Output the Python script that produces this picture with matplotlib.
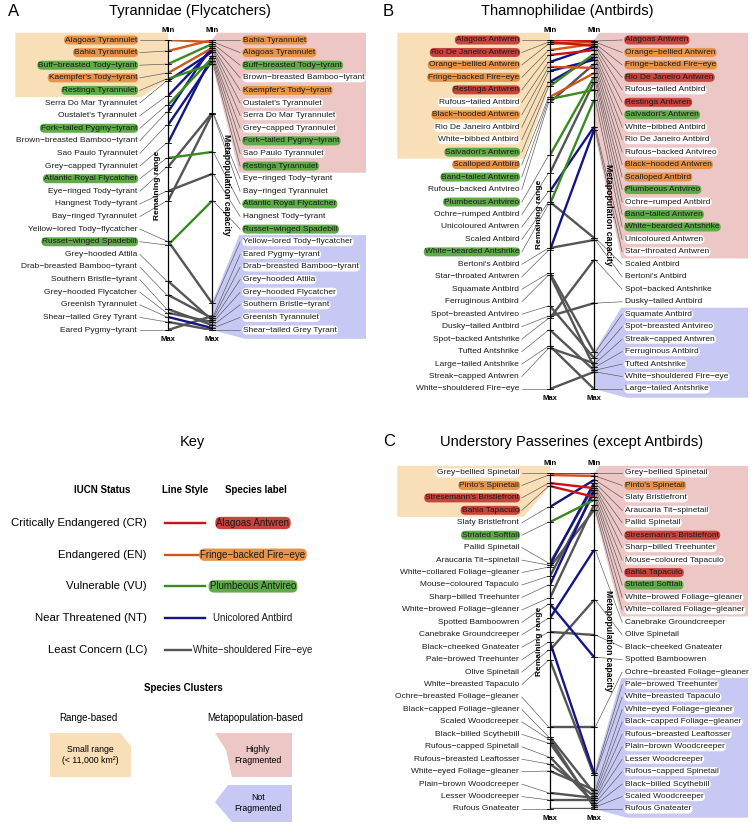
import matplotlib.pyplot as plt
from matplotlib.patches import Polygon

plt.rcParams['font.family'] = ['Liberation Sans', 'DejaVu Sans']

W, H = 752, 825

line_col = {'CR': '#c81414', 'EN': '#d0561c', 'VU': '#3a8a20', 'NT': '#15158a', 'LC': '#555555'}
pill_col = {'CR': '#c9433d', 'EN': '#e7944a', 'VU': '#5fab4a'}
tan, pink, blue = '#f8dfb7', '#edc6c6', '#c8c8f5'

# ---------------- A: Tyrannidae
a_left = ["Alagoas Tyrannulet", "Bahia Tyrannulet", "Buff-breasted Tody-tyrant", "Kaempfer's Tody-tyrant",
          "Restinga Tyrannulet", "Serra Do Mar Tyrannulet", "Oustalet's Tyrannulet", "Fork-tailed Pygmy-tyrant",
          "Brown-breasted Bamboo-tyrant", "Sao Paulo Tyrannulet", "Grey-capped Tyrannulet",
          "Atlantic Royal Flycatcher", "Eye-ringed Tody-tyrant", "Hangnest Tody-tyrant", "Bay-ringed Tyrannulet",
          "Yellow-lored Tody-flycatcher", "Russet-winged Spadebill", "Grey-hooded Attila",
          "Drab-breasted Bamboo-tyrant", "Southern Bristle-tyrant", "Grey-hooded Flycatcher",
          "Greenish Tyrannulet", "Shear-tailed Grey Tyrant", "Eared Pygmy-tyrant"]
a_status = ['EN', 'EN', 'VU', 'EN', 'VU', 'NT', 'NT', 'VU', 'NT', 'NT', 'NT', 'VU', 'LC', 'LC', 'LC', 'LC',
            'VU', 'LC', 'LC', 'LC', 'LC', 'NT', 'LC', 'LC']
a_range = [0.000, 0.038, 0.083, 0.114, 0.134, 0.141, 0.193, 0.224, 0.248, 0.293, 0.355, 0.407, 0.438, 0.521,
           0.555, 0.693, 0.707, 0.831, 0.879, 0.928, 0.941, 0.955, 0.972, 1.000]
a_right = ["Bahia Tyrannulet", "Alagoas Tyrannulet", "Buff-breasted Tody-tyrant", "Brown-breasted Bamboo-tyrant",
           "Kaempfer's Tody-tyrant", "Oustalet's Tyrannulet", "Serra Do Mar Tyrannulet", "Grey-capped Tyrannulet",
           "Fork-tailed Pygmy-tyrant", "Sao Paulo Tyrannulet", "Restinga Tyrannulet", "Eye-ringed Tody-tyrant",
           "Bay-ringed Tyrannulet", "Atlantic Royal Flycatcher", "Hangnest Tody-tyrant", "Russet-winged Spadebill",
           "Yellow-lored Tody-flycatcher", "Eared Pygmy-tyrant", "Drab-breasted Bamboo-tyrant",
           "Grey-hooded Attila", "Grey-hooded Flycatcher", "Southern Bristle-tyrant", "Greenish Tyrannulet",
           "Shear-tailed Grey Tyrant"]
a_cap = [0.000, 0.007, 0.014, 0.021, 0.028, 0.034, 0.041, 0.055, 0.062, 0.072, 0.083, 0.252, 0.255, 0.386,
         0.462, 0.555, 0.907, 0.952, 0.959, 0.966, 0.972, 0.983, 0.993, 1.000]

# ---------------- B: Thamnophilidae
b_left = ["Alagoas Antwren", "Rio De Janeiro Antwren", "Orange-bellied Antwren", "Fringe-backed Fire-eye",
          "Restinga Antwren", "Rufous-tailed Antbird", "Black-hooded Antwren", "Rio De Janeiro Antbird",
          "White-bibbed Antbird", "Salvadori's Antwren", "Scalloped Antbird", "Band-tailed Antwren",
          "Rufous-backed Antvireo", "Plumbeous Antvireo", "Ochre-rumped Antbird", "Unicoloured Antwren",
          "Scaled Antbird", "White-bearded Antshrike", "Bertoni's Antbird", "Star-throated Antwren",
          "Squamate Antbird", "Ferruginous Antbird", "Spot-breasted Antvireo", "Dusky-tailed Antbird",
          "Spot-backed Antshrike", "Tufted Antshrike", "Large-tailed Antshrike", "Streak-capped Antwren",
          "White-shouldered Fire-eye"]
b_status = ['CR', 'CR', 'EN', 'EN', 'CR', 'NT', 'EN', 'NT', 'NT', 'VU', 'EN', 'VU', 'LC', 'VU', 'LC', 'NT',
            'LC', 'VU', 'LC', 'NT', 'LC', 'LC', 'LC', 'LC', 'LC', 'LC', 'LC', 'LC', 'LC']
b_range = [0.000, 0.006, 0.011, 0.029, 0.043, 0.063, 0.077, 0.089, 0.120, 0.132, 0.163, 0.169, 0.178, 0.330,
           0.381, 0.433, 0.464, 0.470, 0.596, 0.602, 0.668, 0.673, 0.762, 0.791, 0.797, 0.831, 0.877, 0.883,
           1.000]
b_right = ["Alagoas Antwren", "Orange-bellied Antwren", "Fringe-backed Fire-eye", "Rio De Janeiro Antwren",
           "Rufous-tailed Antbird", "Restinga Antwren", "Salvadori's Antwren", "White-bibbed Antbird",
           "Rio De Janeiro Antbird", "Rufous-backed Antvireo", "Black-hooded Antwren", "Scalloped Antbird",
           "Plumbeous Antvireo", "Ochre-rumped Antbird", "Band-tailed Antwren", "White-bearded Antshrike",
           "Unicoloured Antwren", "Star-throated Antwren", "Scaled Antbird", "Bertoni's Antbird",
           "Spot-backed Antshrike", "Dusky-tailed Antbird", "Squamate Antbird", "Spot-breasted Antvireo",
           "Streak-capped Antwren", "Ferruginous Antbird", "Tufted Antshrike", "White-shouldered Fire-eye",
           "Large-tailed Antshrike"]
b_cap = [0.003, 0.006, 0.011, 0.017, 0.020, 0.029, 0.040, 0.049, 0.057, 0.069, 0.080, 0.095, 0.106, 0.120,
         0.143, 0.172, 0.249, 0.258, 0.567, 0.573, 0.630, 0.754, 0.894, 0.911, 0.926, 0.937, 0.946, 0.951,
         1.000]

# ---------------- C: Understory passerines
c_left = ["Grey-bellied Spinetail", "Pinto's Spinetail", "Stresemann's Bristlefront", "Bahia Tapaculo",
          "Slaty Bristlefront", "Striated Softtail", "Pallid Spinetail", "Araucaria Tit-spinetail",
          "White-collared Foliage-gleaner", "Mouse-coloured Tapaculo", "Sharp-billed Treehunter",
          "White-browed Foliage-gleaner", "Spotted Bamboowren", "Canebrake Groundcreeper",
          "Black-cheeked Gnateater", "Pale-browed Treehunter", "Olive Spinetail", "White-breasted Tapaculo",
          "Ochre-breasted Foliage-gleaner", "Black-capped Foliage-gleaner", "Scaled Woodcreeper",
          "Black-billed Scythebill", "Rufous-capped Spinetail", "Rufous-breasted Leaftosser",
          "White-eyed Foliage-gleaner", "Plain-brown Woodcreeper", "Lesser Woodcreeper", "Rufous Gnateater"]
c_status = ['LC', 'EN', 'CR', 'CR', 'NT', 'VU', 'LC', 'NT', 'LC', 'LC', 'NT', 'LC', 'NT', 'NT', 'LC', 'NT',
            'LC', 'LC', 'LC', 'LC', 'LC', 'LC', 'LC', 'LC', 'LC', 'LC', 'LC', 'LC']
c_range = [0.000, 0.006, 0.030, 0.039, 0.101, 0.146, 0.268, 0.274, 0.280, 0.307, 0.333, 0.372, 0.390, 0.432,
           0.473, 0.503, 0.527, 0.557, 0.756, 0.786, 0.792, 0.804, 0.845, 0.866, 0.887, 0.952, 0.973, 1.000]
c_right = ["Grey-bellied Spinetail", "Pinto's Spinetail", "Slaty Bristlefront", "Araucaria Tit-spinetail",
           "Pallid Spinetail", "Stresemann's Bristlefront", "Sharp-billed Treehunter", "Mouse-coloured Tapaculo",
           "Bahia Tapaculo", "Striated Softtail", "White-browed Foliage-gleaner", "White-collared Foliage-gleaner",
           "Canebrake Groundcreeper", "Olive Spinetail", "Black-cheeked Gnateater", "Spotted Bamboowren",
           "Ochre-breasted Foliage-gleaner", "Pale-browed Treehunter", "White-breasted Tapaculo",
           "White-eyed Foliage-gleaner", "Black-capped Foliage-gleaner", "Rufous-breasted Leaftosser",
           "Plain-brown Woodcreeper", "Lesser Woodcreeper", "Rufous-capped Spinetail", "Black-billed Scythebill",
           "Scaled Woodcreeper", "Rufous Gnateater"]
c_cap = [0.000, 0.009, 0.021, 0.030, 0.039, 0.045, 0.051, 0.060, 0.071, 0.080, 0.095, 0.110, 0.229, 0.378,
         0.482, 0.548, 0.756, 0.893, 0.899, 0.943, 0.952, 0.961, 0.967, 0.973, 0.982, 0.988, 0.994, 1.000]

# ---------------- key
key_names = ['Critically Endangered (CR)', 'Endangered (EN)', 'Vulnerable (VU)', 'Near Threatened (NT)',
             'Least Concern (LC)']
key_codes = ['CR', 'EN', 'VU', 'NT', 'LC']
key_examples = ['Alagoas Antwren', 'Fringe-backed Fire-eye', 'Plumbeous Antvireo', 'Unicolored Antbird',
                'White-shouldered Fire-eye']

fig = plt.figure(figsize=(W / 100, H / 100), dpi=100)


def add_ax(x0, y0, x1, y1):
    return fig.add_axes([x0 / W, 1 - y1 / H, (x1 - x0) / W, (y1 - y0) / H])


def pill(ax, x, y, txt, code, ha, fs=6.0, **kw):
    fc = pill_col.get(code, 'white')
    ax.text(x, y, txt.replace('-', '\u2212'), ha=ha, va='center', fontsize=fs, color='#1a1a1a', zorder=5,
            clip_on=False, bbox=dict(boxstyle='round,pad=0.12,rounding_size=0.55', fc=fc, ec='none'), **kw)


def panel(ax, left, status, rng, right, cap, n_tan, n_pink, n_blue):
    ax.set_xlim(0, 1)
    ax.set_ylim(1, 0)
    ax.axis('off')
    st = dict(zip(left, status))
    r = dict(zip(left, rng))
    c = dict(zip(right, cap))
    n = len(left)
    rows = [i / (n - 1) for i in range(n)]
    half = 0.5 / (n - 1)
    top = -1.15 * half

    # cluster shading
    bot = rows[n_tan - 1] + 1.05 * half
    ax.add_patch(Polygon([(-3.47, top), (0, top), (0, r[left[n_tan - 1]]), (-0.6, bot), (-3.47, bot)],
                         fc=tan, ec='none', zorder=0, clip_on=False))
    bot = rows[n_pink - 1] + 1.05 * half
    ax.add_patch(Polygon([(1, 0), (1.12, top), (4.5, top), (4.5, bot), (1.62, bot), (1, c[right[n_pink - 1]])],
                         fc=pink, ec='none', zorder=0, clip_on=False))
    k = n - n_blue
    t = rows[k] - 1.05 * half
    b = 1 + 1.4 * half
    ax.add_patch(Polygon([(1, c[right[k]]), (1.62, t), (4.5, t), (4.5, b), (1.75, b), (1, 1)],
                         fc=blue, ec='none', zorder=0, clip_on=False))

    # connecting lines, least threatened underneath
    for s in ['LC', 'NT', 'VU', 'EN', 'CR']:
        for name in left:
            if st[name] == s:
                ax.plot([0, 1], [r[name], c[name]], color=line_col[s], lw=1.7, zorder=2,
                        solid_capstyle='butt')

    for i, name in enumerate(left):
        ax.plot([-0.64, -0.03], [rows[i], r[name]], color='#555555', lw=0.45, zorder=1, clip_on=False)
        ax.plot([-0.07, 0.07], [r[name], r[name]], color='k', lw=0.6, zorder=3, clip_on=False)
        pill(ax, -0.70, rows[i], name, st[name], 'right')
    for i, name in enumerate(right):
        ax.plot([1.03, 1.64], [c[name], rows[i]], color='#555555', lw=0.45, zorder=1, clip_on=False)
        ax.plot([0.93, 1.07], [c[name], c[name]], color='k', lw=0.6, zorder=3, clip_on=False)
        pill(ax, 1.71, rows[i], name, st[name], 'left')

    for x in (0, 1):
        ax.plot([x, x], [0, 1], color='k', lw=0.9, zorder=3, clip_on=False)
        ax.annotate('Min', (x, 0), xytext=(0, 6.5), textcoords='offset points', ha='center', va='center',
                    fontsize=5.5, fontweight='bold')
        ax.annotate('Max', (x, 1), xytext=(0, -7), textcoords='offset points', ha='center', va='center',
                    fontsize=5.5, fontweight='bold')
    ax.text(-0.23, 0.5, 'Remaining range', rotation=90, ha='center', va='center', fontsize=6.0,
            fontweight='bold', zorder=6)
    ax.text(1.32, 0.5, 'Metapopulation capacity', rotation=270, ha='center', va='center', fontsize=6.2,
            fontweight='bold', zorder=6)


panel(add_ax(168, 40, 212, 330), a_left, a_status, a_range, a_right, a_cap, 5, 11, 8)
panel(add_ax(550, 40, 594, 389), b_left, b_status, b_range, b_right, b_cap, 10, 18, 7)
panel(add_ax(550, 473, 594, 809), c_left, c_status, c_range, c_right, c_cap, 4, 12, 11)

fig.text(8 / W, 1 - 11 / H, 'A', fontsize=12, va='center', ha='left')
fig.text(190 / W, 1 - 11 / H, 'Tyrannidae (Flycatchers)', fontsize=10.5, va='center', ha='center')
fig.text(383 / W, 1 - 11 / H, 'B', fontsize=12, va='center', ha='left')
fig.text(567 / W, 1 - 11 / H, 'Thamnophilidae (Antbirds)', fontsize=10.5, va='center', ha='center')
fig.text(383 / W, 1 - 442 / H, 'C', fontsize=12, va='center', ha='left')
fig.text(572 / W, 1 - 442 / H, 'Understory Passerines (except Antbirds)', fontsize=10.5, va='center',
         ha='center')

# ---------------- key panel
kx = add_ax(0, 420, 376, 825)
kx.set_xlim(0, 376)
kx.set_ylim(825, 420)
kx.axis('off')
kx.text(192, 442, 'Key', fontsize=10.5, ha='center', va='center')
kx.text(102, 490, 'IUCN Status', fontsize=7, fontweight='bold', ha='center', va='center')
kx.text(185, 490, 'Line Style', fontsize=7, fontweight='bold', ha='center', va='center')
kx.text(256, 490, 'Species label', fontsize=7, fontweight='bold', ha='center', va='center')
for i, (nm, code, ex) in enumerate(zip(key_names, key_codes, key_examples)):
    y = 523 + i * 31.7
    kx.text(147, y, nm, fontsize=8.2, ha='right', va='center')
    kx.plot([165, 205], [y, y], color=line_col[code], lw=1.7)
    pill(kx, 253, y, ex, code, 'center', fs=7)

kx.text(183, 688, 'Species Clusters', fontsize=7, fontweight='bold', ha='center', va='center')
kx.text(88, 718, 'Range-based', fontsize=7, ha='center', va='center')
kx.text(255, 718, 'Metapopulation-based', fontsize=7, ha='center', va='center')
kx.add_patch(Polygon([(50, 733), (120, 733), (131, 746), (131, 777), (50, 777)], fc=tan, ec='none'))
kx.add_patch(Polygon([(215, 733), (292, 733), (292, 777), (232, 777), (226, 750)], fc=pink, ec='none'))
kx.add_patch(Polygon([(228, 785), (292, 785), (292, 822), (232, 822), (215, 802)], fc=blue, ec='none'))
kx.text(90, 755, 'Small range\n(< 11,000 km\u00b2)', fontsize=6.3, ha='center', va='center', linespacing=1.4)
kx.text(258, 755, 'Highly\nFragmented', fontsize=6.3, ha='center', va='center', linespacing=1.4)
kx.text(258, 803, 'Not\nFragmented', fontsize=6.3, ha='center', va='center', linespacing=1.4)

fig.savefig('out.png', dpi=100)
